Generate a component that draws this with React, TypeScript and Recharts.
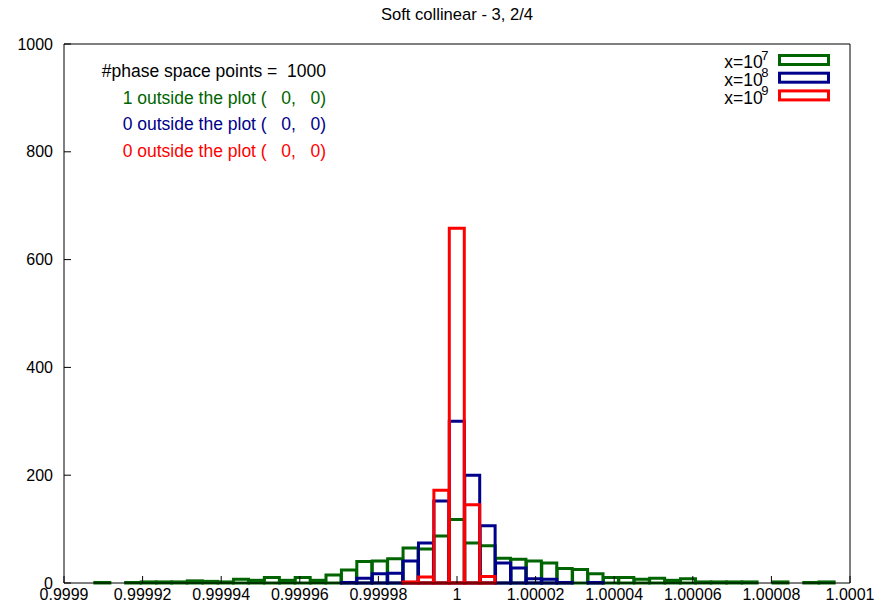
import { BarChart, Bar, XAxis, YAxis } from "recharts";

// histogram binning: 51 bins over [0.9999, 1.0001]
const binLow = 0.9999;
const binHigh = 1.0001;
const binCount = 51;
const binCenters = Array.from({ length: binCount }, (_, i) => binLow + ((i + 0.5) * (binHigh - binLow)) / binCount);

// counts per bin, x = 10^7, 10^8, 10^9
const countsX7 = [
  0, 0, 1, 0, 1, 2, 2, 2, 4, 3, 2, 7, 5, 10, 5, 10, 5, 15, 24, 40, 41, 45, 65, 63, 87, 118,
  74, 69, 46, 44, 41, 37, 27, 25, 17, 10, 10, 7, 9, 5, 8, 2, 2, 2, 2, 0, 2, 0, 1, 2, 0,
];
const countsX8 = [
  0, 0, 0, 0, 0, 0, 0, 0, 0, 0, 0, 0, 0, 0, 0, 0, 0, 0, 1, 9, 17, 18, 41, 74, 152, 300,
  200, 106, 37, 28, 8, 7, 1, 0, 1, 0, 0, 0, 0, 0, 0, 0, 0, 0, 0, 0, 0, 0, 0, 0, 0,
];
const countsX9 = [
  0, 0, 0, 0, 0, 0, 0, 0, 0, 0, 0, 0, 0, 0, 0, 0, 0, 0, 0, 0, 0, 0, 2, 11, 172, 658,
  145, 12, 0, 0, 0, 0, 0, 0, 0, 0, 0, 0, 0, 0, 0, 0, 0, 0, 0, 0, 0, 0, 0, 0, 0,
];

const xTicks = [0.9999, 0.99992, 0.99994, 0.99996, 0.99998, 1, 1.00002, 1.00004, 1.00006, 1.00008, 1.0001];
const xTickLabels = ["0.9999", "0.99992", "0.99994", "0.99996", "0.99998", "1", "1.00002", "1.00004", "1.00006", "1.00008", "1.0001"];
const yTicks = [0, 200, 400, 600, 800, 1000];

const seriesNames = ["7", "8", "9"];
const seriesColors = ["#006400", "#00008b", "#ff0000"];
const infoLines = [
  "#phase space points =  1000",
  "1 outside the plot (   0,   0)",
  "0 outside the plot (   0,   0)",
  "0 outside the plot (   0,   0)",
];

const rows = binCenters.map((x, i) => ({ x, g: countsX7[i], b: countsX8[i], r: countsX9[i] }));

const font = '"Liberation Sans", Arial, Helvetica, sans-serif';
const axisDomain: [number, number] = [binLow, binHigh];

export default function App() {
  return (
    <div style={{ position: "absolute", left: 0, top: 0, width: 894, height: 608, background: "#fff", fontFamily: font }}>
      <BarChart
        width={894}
        height={608}
        data={rows}
        margin={{ top: 43, right: 43, bottom: 0, left: 14 }}
        barCategoryGap={0}
        barGap={0}
        style={{ fontFamily: font }}
      >
        <XAxis
          xAxisId="g"
          type="number"
          dataKey="x"
          domain={axisDomain}
          allowDataOverflow
          ticks={xTicks}
          interval={0}
          height={25}
          tickSize={-7}
          tickMargin={13}
          tickFormatter={(_v: number, i: number) => xTickLabels[i]}
          tick={{ fill: "#000", fontSize: 16 }}
          tickLine={{ stroke: "#000" }}
          axisLine={{ stroke: "#000" }}
        />
        <XAxis
          xAxisId="b"
          orientation="top"
          type="number"
          dataKey="x"
          domain={axisDomain}
          allowDataOverflow
          ticks={xTicks}
          interval={0}
          height={1}
          tickSize={-7}
          tick={false}
          tickLine={{ stroke: "#000" }}
          axisLine={{ stroke: "#000" }}
        />
        <XAxis xAxisId="r" type="number" dataKey="x" domain={axisDomain} allowDataOverflow hide />
        <YAxis
          type="number"
          domain={[0, 1000]}
          ticks={yTicks}
          interval={0}
          width={50}
          tickSize={-7}
          tickMargin={18}
          tick={{ fill: "#000", fontSize: 16 }}
          tickLine={{ stroke: "#000" }}
          axisLine={{ stroke: "#000" }}
        />
        <YAxis
          yAxisId="right"
          orientation="right"
          type="number"
          domain={[0, 1000]}
          ticks={yTicks}
          interval={0}
          width={1}
          tickSize={-7}
          tick={false}
          tickLine={{ stroke: "#000" }}
          axisLine={{ stroke: "#000" }}
        />
        <Bar xAxisId="g" dataKey="g" fill="none" stroke={seriesColors[0]} strokeWidth={3} isAnimationActive={false} />
        <Bar xAxisId="b" dataKey="b" fill="none" stroke={seriesColors[1]} strokeWidth={3} isAnimationActive={false} />
        <Bar xAxisId="r" dataKey="r" fill="none" stroke={seriesColors[2]} strokeWidth={3} isAnimationActive={false} />
      </BarChart>

      <svg width={894} height={608} style={{ position: "absolute", left: 0, top: 0, pointerEvents: "none", fontFamily: font }}>
        <text x={457} y={20} textAnchor="middle" fontSize={16.6} fill="#000">
          Soft collinear - 3, 2/4
        </text>
        {infoLines.map((line, i) => (
          <text
            key={i}
            x={326}
            y={77 + i * 26.7}
            textAnchor="end"
            fontSize={17.5}
            fill={i === 0 ? "#000" : seriesColors[i - 1]}
            style={{ whiteSpace: "pre" }}
          >
            {line}
          </text>
        ))}
        {seriesNames.map((p, i) => (
          <g key={p}>
            <text x={768.5} y={68.3 + i * 17.7} textAnchor="end" fontSize={17.5} fill="#000">
              x=10
              <tspan dx={-1.5} dy={-8.8} fontSize={13}>
                {p}
              </tspan>
            </text>
            <rect x={779.5} y={55.5 + i * 17.7} width={49} height={9} fill="none" stroke={seriesColors[i]} strokeWidth={3} />
          </g>
        ))}
      </svg>
    </div>
  );
}
